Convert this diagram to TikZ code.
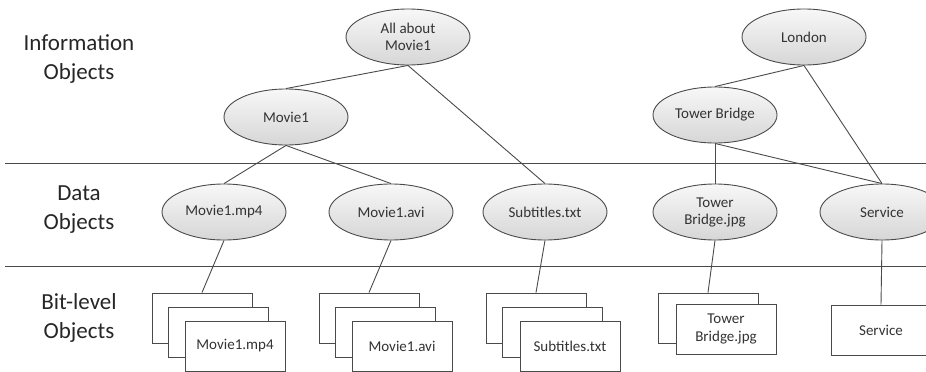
\documentclass[tikz,border=0pt]{standalone}
\usepackage{fontspec}
\setmainfont{Carlito}
\usetikzlibrary{shapes.geometric}
\definecolor{edge}{HTML}{4A4A4A}
\begin{document}
\begin{tikzpicture}[x=1pt,y=-1pt,
  obj/.style={ellipse,draw=edge,top color=black!3,bottom color=black!16,
    line width=0.9pt,minimum width=124pt,
    minimum height=56pt,inner sep=0pt,align=center,
    font=\fontsize{15}{17}\selectfont,text=black!80},
  file/.style={rectangle,draw=edge,fill=white,line width=0.9pt,minimum width=100pt,
    minimum height=50pt,inner sep=0pt,align=center,
    font=\fontsize{15}{18}\selectfont,text=black!80},
  layer/.style={align=center,font=\fontsize{23}{29}\selectfont,text=black!85},
  link/.style={draw=edge,line width=0.9pt},
  divider/.style={draw=edge,line width=1pt}]
\useasboundingbox (0,0) rectangle (926,372);

% layer dividers
\draw[divider] (5,163) -- (926,163);
\draw[divider] (5,266) -- (926,266);

% layer labels
\node[layer] (linfo) at (79,59) {Information\\Objects};
\node[layer] (ldata) at (79,210) {Data\\Objects};
\node[layer] (lbits) at (79,318) {Bit-level\\Objects};

% information objects
\node[obj] (am)  at (408,37)  {All about\\Movie1};
\node[obj] (m1)  at (286,117) {Movie1};
\node[obj] (lon) at (804,37)  {London};
\node[obj] (tb)  at (715,115) {Tower Bridge};

% data objects
\node[obj] (mp4) at (224,212) {Movie1.mp4};
\node[obj] (avi) at (391,212) {Movie1.avi};
\node[obj] (sub) at (545,212) {Subtitles.txt};
\node[obj] (tbj) at (715,212) {Tower\\Bridge.jpg};
\node[obj] (svc) at (882,212) {Service};

% bit-level objects (stacked copies, back to front)
\node[file] (mp4a) at (202,318) {};
\node[file] (mp4b) at (218,332) {};
\node[file] (mp4c) at (235,346) {Movie1.mp4};
\node[file] (avia) at (369,318) {};
\node[file] (avib) at (385,332) {};
\node[file] (avic) at (402,346) {Movie1.avi};
\node[file] (suba) at (536,318) {};
\node[file] (subb) at (552,332) {};
\node[file] (subc) at (570,346) {Subtitles.txt};
\node[file] (tbja) at (708,318) {};
\node[file] (tbjb) at (726,329) {Tower\\Bridge.jpg};
\node[file] (svcb) at (881,330) {Service};

% relations
\draw[link] (am.south) -- (m1.north);
\draw[link] (am.south) -- (sub.north);
\draw[link] (m1.south) -- (mp4.north);
\draw[link] (m1.south) -- (avi.north);
\draw[link] (lon.south) -- (tb.north);
\draw[link] (lon.south) -- (svc.north);
\draw[link] (tb.south) -- (tbj.north);
\draw[link] (tb.south) -- (svc.north);
\draw[link] (mp4.south) -- (mp4a.north);
\draw[link] (avi.south) -- (avia.north);
\draw[link] (sub.south) -- (suba.north);
\draw[link] (tbj.south) -- (tbja.north);
\draw[link] (svc.south) -- (svcb.north);
\end{tikzpicture}
\end{document}
